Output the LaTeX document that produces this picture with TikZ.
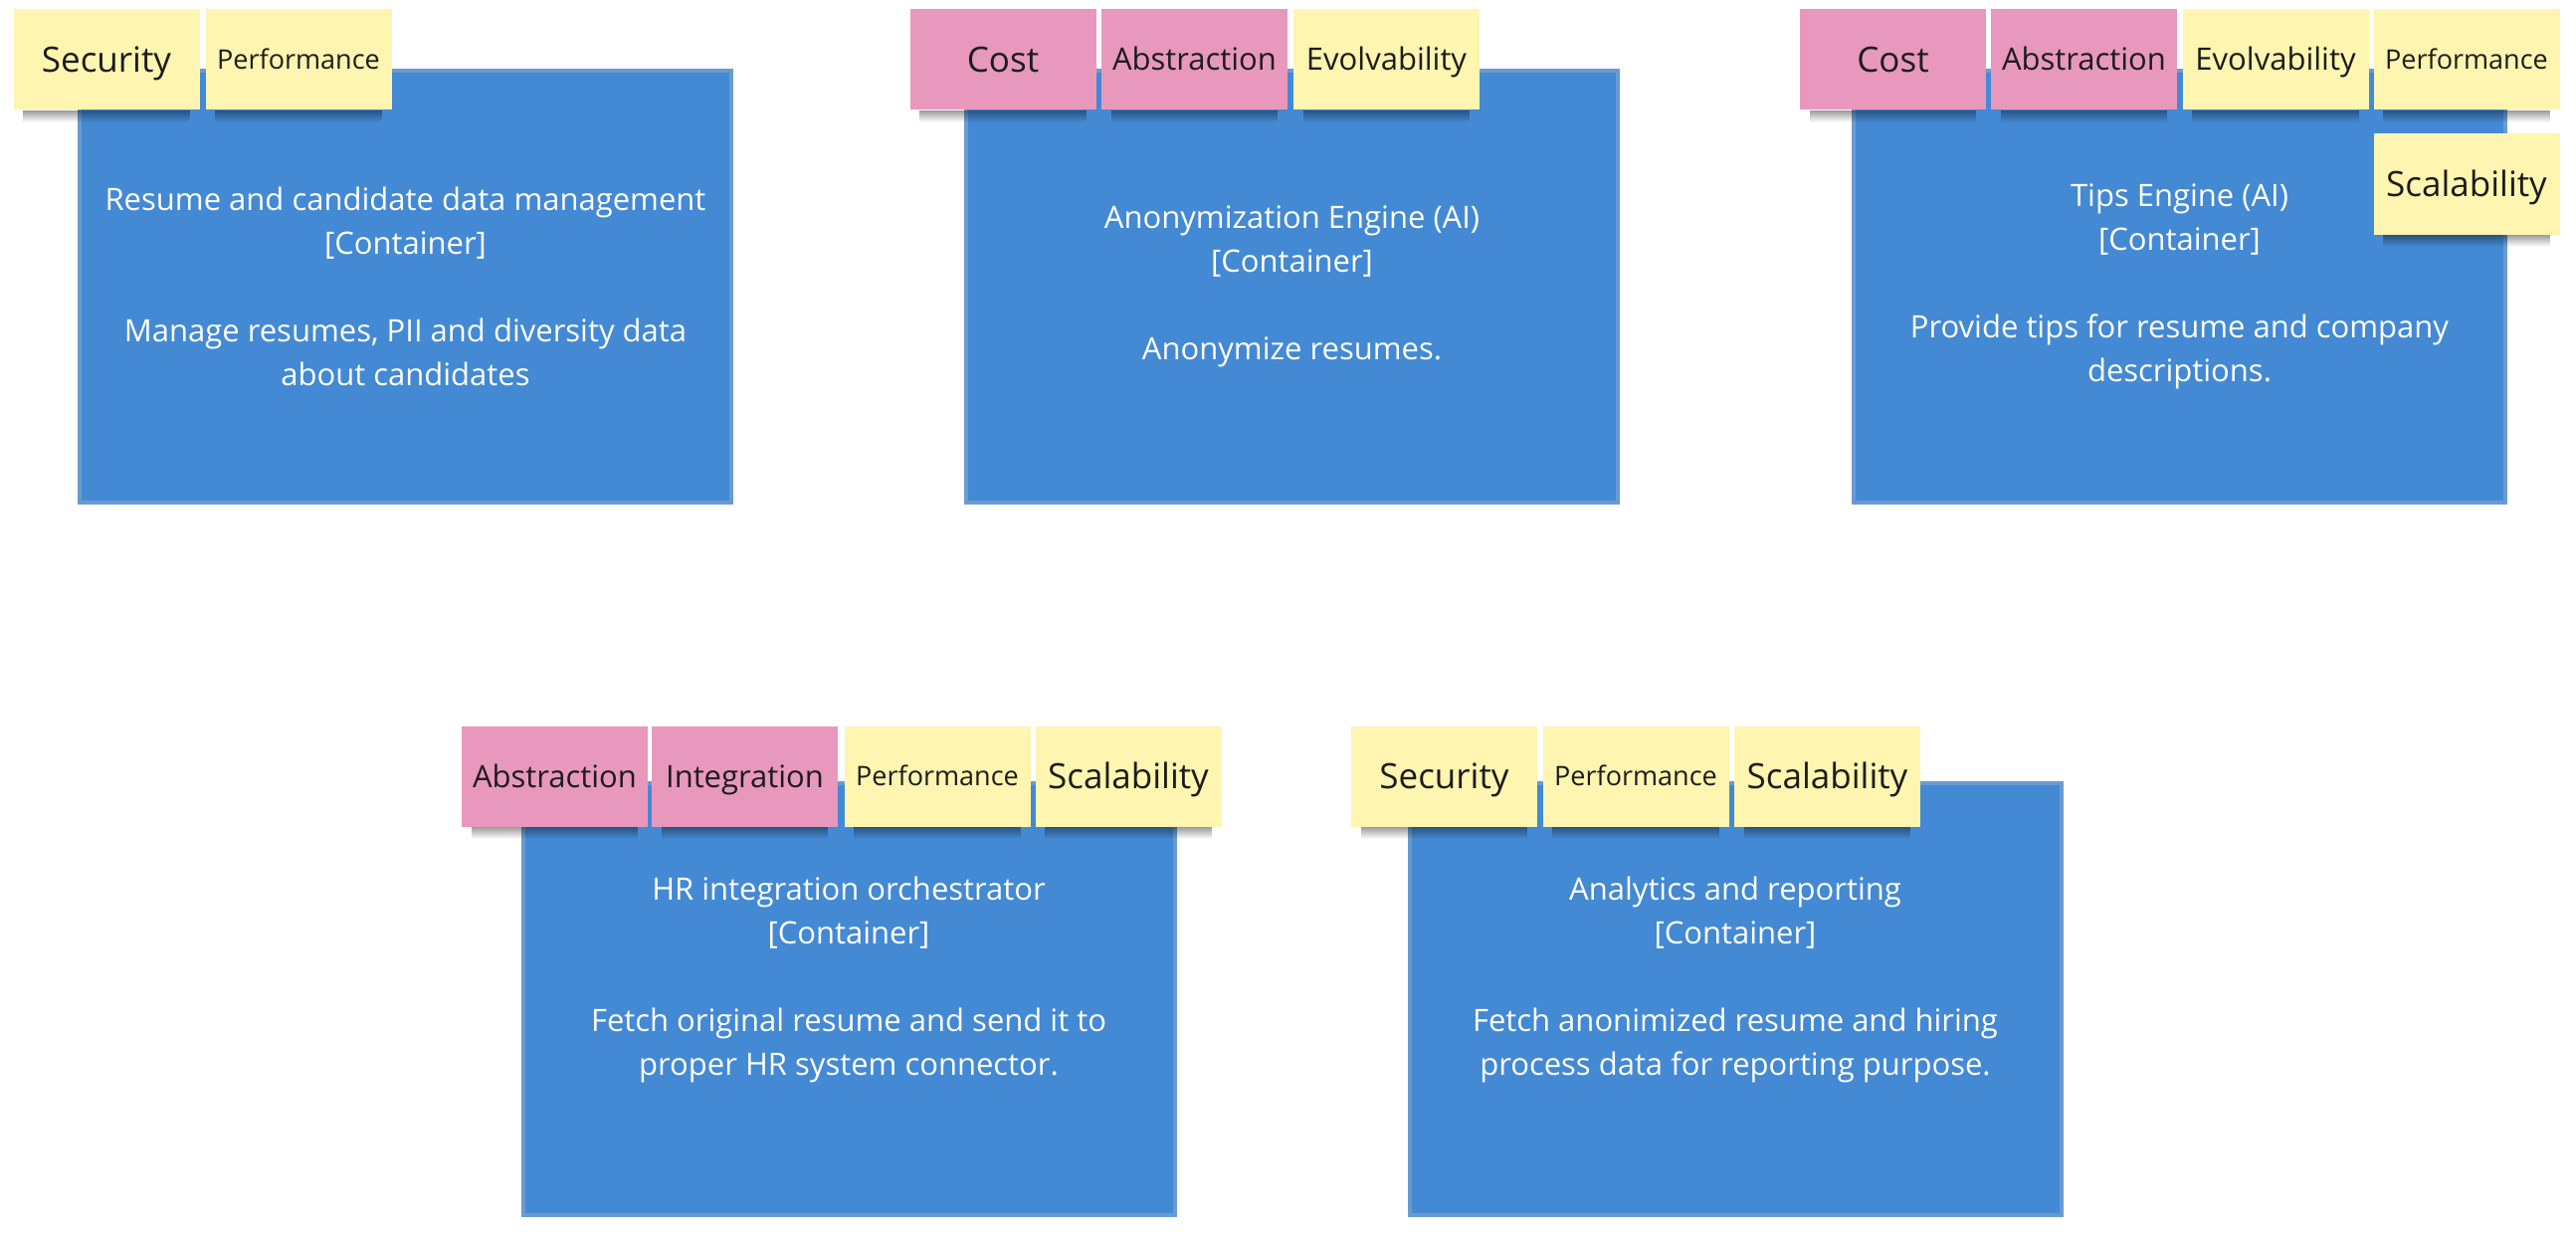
\documentclass[tikz,border=0pt]{standalone}
\usepackage{fontspec}
\setmainfont{Open Sans}
\usepackage{tikz}
\usetikzlibrary{fadings}
\definecolor{boxblue}{HTML}{4489D3}
\definecolor{boxedge}{HTML}{6A9BD0}
\definecolor{notepink}{HTML}{E898BD}
\definecolor{noteyellow}{HTML}{FDF5B0}
\definecolor{notetext}{HTML}{1C1C1C}

\begin{document}
\begin{tikzpicture}[x=1pt,y=-1pt,
	container/.style={draw=boxedge,line width=4pt,fill=boxblue,minimum width=655pt,minimum height=434pt,inner sep=0pt},
	desc/.style={text=white,align=center,font=\fontsize{31}{44}\selectfont},
	note/.style={minimum width=187pt,minimum height=101pt,inner sep=0pt,text=notetext},
	pinknote/.style={note,fill=notepink},
	yellownote/.style={note,fill=noteyellow},
	txtL/.style={font=\fontsize{35}{40}\selectfont,text height=25pt,text depth=0pt},
	txtM/.style={font=\fontsize{31}{36}\selectfont,text height=22pt,text depth=0pt},
	txtS/.style={font=\fontsize{27}{32}\selectfont,text height=19pt,text depth=0pt},
	noteshadow/.style={fill=black,opacity=.4,path fading=south}]
		\fill [white] (0,0) rectangle (2589,1244);
		\useasboundingbox (0,0) rectangle (2589,1244);
		\node [container] (rdm) at (407.5,288) {};
		\node [container] (anon) at (1298.5,288) {};
		\node [container] (tips) at (2190.5,288) {};
		\node [container] (hr) at (853,1004) {};
		\node [container] (ana) at (1744,1004) {};
		\node [desc] (rdm-txt) at (rdm.center) {Resume and candidate data management\\{}[Container]\\[44pt]Manage resumes, PII and diversity data\\about candidates};
		\node [desc] (anon-txt) at (anon.center) {Anonymization Engine (AI)\\{}[Container]\\[44pt]Anonymize resumes.};
		\node [desc] (tips-txt) at (tips.center) {Tips Engine (AI)\\{}[Container]\\[44pt]Provide tips for resume and company\\descriptions.};
		\node [desc] (hr-txt) at ([yshift=20pt]hr.center) {HR integration orchestrator\\{}[Container]\\[44pt]Fetch original resume and send it to\\proper HR system connector.};
		\node [desc] (ana-txt) at ([yshift=20pt]ana.center) {Analytics and reporting\\{}[Container]\\[44pt]Fetch anonimized resume and hiring\\process data for reporting purpose.};
		\node [yellownote,txtL] (rdm-sec) at (107,60) {Security};
		\node [yellownote,txtS] (rdm-perf) at (300,60) {Performance};
		\node [pinknote,txtL] (anon-cost) at (1008,60) {Cost};
		\node [pinknote,txtM] (anon-abs) at (1200.5,60) {Abstraction};
		\node [yellownote,txtM] (anon-evo) at (1393.5,60) {Evolvability};
		\node [pinknote,txtL] (tips-cost) at (1902.5,60) {Cost};
		\node [pinknote,txtM] (tips-abs) at (2094.5,60) {Abstraction};
		\node [yellownote,txtM] (tips-evo) at (2287,60) {Evolvability};
		\node [yellownote,txtS] (tips-perf) at (2479,60) {Performance};
		\node [yellownote,txtL] (tips-scal) at (2479,185) {Scalability};
		\node [pinknote,txtM] (hr-abs) at (557.5,780) {Abstraction};
		\node [pinknote,txtM] (hr-int) at (748.5,780) {Integration};
		\node [yellownote,txtS] (hr-perf) at (942,780) {Performance};
		\node [yellownote,txtL] (hr-scal) at (1134,780) {Scalability};
		\node [yellownote,txtL] (ana-sec) at (1451.5,780) {Security};
		\node [yellownote,txtS] (ana-perf) at (1644,780) {Performance};
		\node [yellownote,txtL] (ana-scal) at (1836.5,780) {Scalability};
		\foreach \n in {rdm-sec,rdm-perf,anon-cost,anon-abs,anon-evo,tips-cost,tips-abs,tips-evo,tips-perf,tips-scal,hr-abs,hr-int,hr-perf,hr-scal,ana-sec,ana-perf,ana-scal}
			\fill [noteshadow] ([xshift=10pt]\n.south west) rectangle ([xshift=-10pt,yshift=-12pt]\n.south east);
\end{tikzpicture}
\end{document}
